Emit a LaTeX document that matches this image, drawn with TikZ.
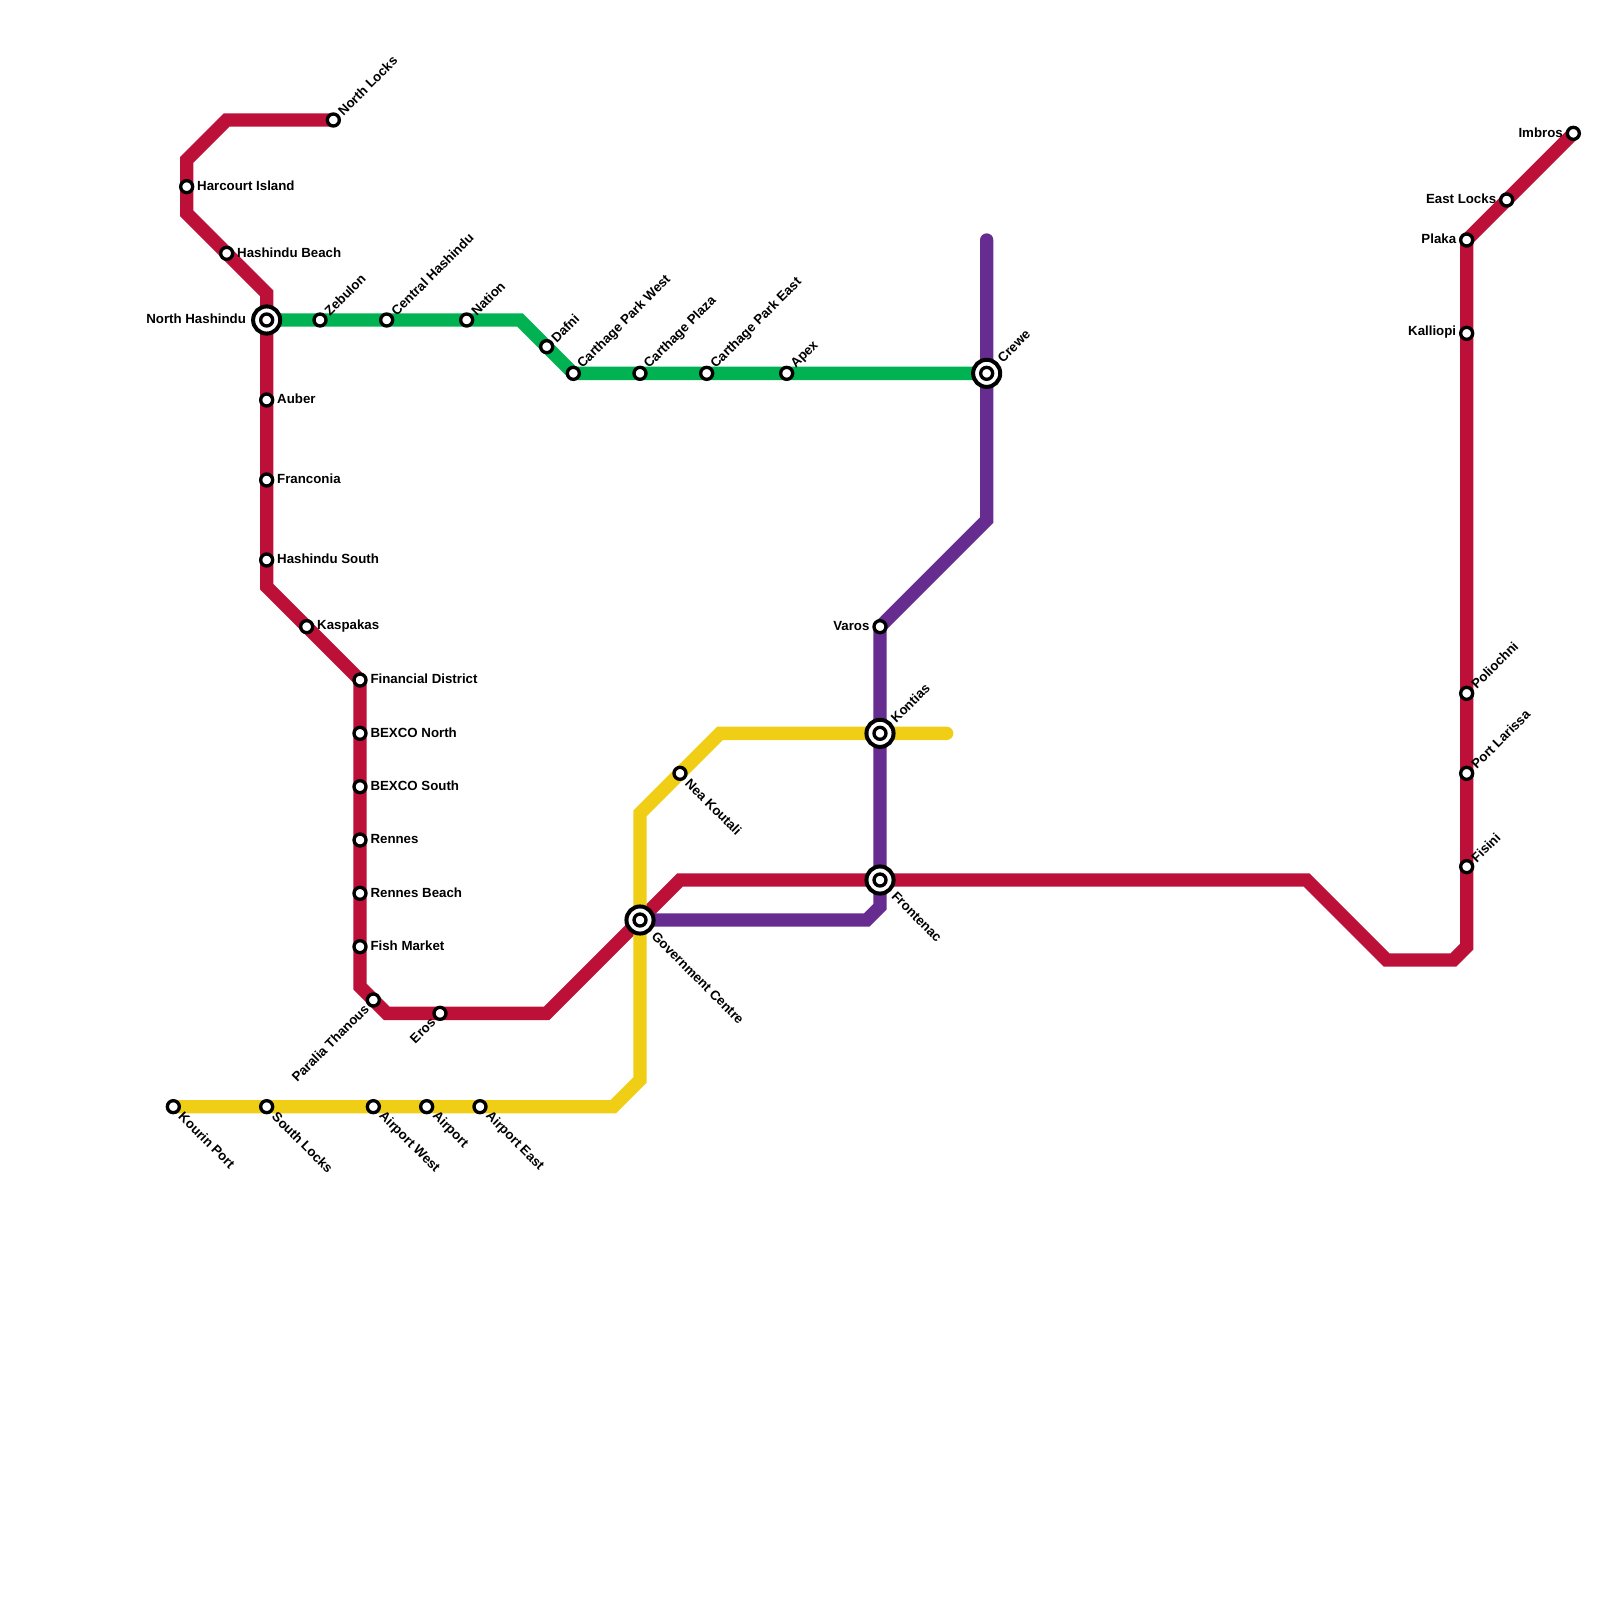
\documentclass[tikz,border=0pt]{standalone}
\usepackage{fontspec}
\setmainfont{Liberation Sans}
\usetikzlibrary{backgrounds}
\definecolor{redline}{HTML}{BD1038}
\definecolor{greenline}{HTML}{00B251}
\definecolor{yellowline}{HTML}{F0CE15}
\definecolor{purpleline}{HTML}{662C90}

\begin{document}
\begin{tikzpicture}[
  x=0.3cm, y=-0.3cm,
  font=\bfseries\fontsize{8.5pt}{10pt}\selectfont,
  stn/.style={circle, draw=black, fill=white, line width=0.75mm, minimum size=2.7mm, inner sep=0pt, outer sep=0pt},
  hub/.style={circle, draw=black, fill=white, line width=0.9mm, minimum size=6.1mm, inner sep=0pt, outer sep=0pt},
  route/.style={line width=0.3cm, line cap=round},
  lr/.style={anchor=west, inner sep=0pt, xshift=2.3mm, yshift=0.2mm},
  ll/.style={anchor=east, inner sep=0pt, xshift=-2.3mm, yshift=0.2mm},
  lu/.style={anchor=west, inner sep=0pt, rotate=45, xshift=2.1mm},
  ld/.style={anchor=west, inner sep=0pt, rotate=-45, xshift=2.4mm},
  lb/.style={anchor=east, inner sep=0pt, rotate=45, xshift=-2.1mm}
]
  \useasboundingbox (0,0) rectangle (120,120);
  % bends
  \coordinate (r1) at (17,9);
  \coordinate (r2) at (14,12);
  \coordinate (r3) at (14,16);
  \coordinate (r4) at (20,22);
  \coordinate (r5) at (20,44);
  \coordinate (r6) at (27,74);
  \coordinate (r7) at (29,76);
  \coordinate (r8) at (41,76);
  \coordinate (r9) at (51,66);
  \coordinate (r10) at (98,66);
  \coordinate (r11) at (104,72);
  \coordinate (r12) at (109,72);
  \coordinate (r13) at (110,71);
  \coordinate (g1) at (39,24);
  \coordinate (p1) at (74,18);
  \coordinate (p2) at (74,39);
  \coordinate (p3) at (66,68);
  \coordinate (p4) at (65,69);
  \coordinate (y1) at (46,83);
  \coordinate (y2) at (48,81);
  \coordinate (y3) at (48,61);
  \coordinate (y4) at (54,55);
  \coordinate (y5) at (71,55);
  % red, upper left
  \node[stn] (nlocks) at (25,9) {};
  \node[lu] (nlocks-l) at (nlocks) {North Locks};
  \node[stn] (harcourt) at (14,14) {};
  \node[lr] (harcourt-l) at (harcourt) {Harcourt Island};
  \node[stn] (hbeach) at (17,19) {};
  \node[lr] (hbeach-l) at (hbeach) {Hashindu Beach};
  \node[hub] (nhash) at (20,24) {};
  \node[stn] (nhash-i) at (nhash) {};
  \node[ll, xshift=-2.3mm] (nhash-l) at (nhash) {North Hashindu};
  \node[stn] (auber) at (20,30) {};
  \node[lr] (auber-l) at (auber) {Auber};
  \node[stn] (franconia) at (20,36) {};
  \node[lr] (franconia-l) at (franconia) {Franconia};
  \node[stn] (hsouth) at (20,42) {};
  \node[lr] (hsouth-l) at (hsouth) {Hashindu South};
  \node[stn] (kaspakas) at (23,47) {};
  \node[lr] (kaspakas-l) at (kaspakas) {Kaspakas};
  \node[stn] (findist) at (27,51) {};
  \node[lr] (findist-l) at (findist) {Financial District};
  \node[stn] (bnorth) at (27,55) {};
  \node[lr] (bnorth-l) at (bnorth) {BEXCO North};
  \node[stn] (bsouth) at (27,59) {};
  \node[lr] (bsouth-l) at (bsouth) {BEXCO South};
  \node[stn] (rennes) at (27,63) {};
  \node[lr] (rennes-l) at (rennes) {Rennes};
  \node[stn] (rbeach) at (27,67) {};
  \node[lr] (rbeach-l) at (rbeach) {Rennes Beach};
  \node[stn] (fish) at (27,71) {};
  \node[lr] (fish-l) at (fish) {Fish Market};
  \node[stn] (paralia) at (28,75) {};
  \node[lb] (paralia-l) at (paralia) {Paralia Thanous};
  \node[stn] (eros) at (33,76) {};
  \node[lb] (eros-l) at (eros) {Eros};
  % green
  \node[stn] (zebulon) at (24,24) {};
  \node[lu] (zebulon-l) at (zebulon) {Zebulon};
  \node[stn] (central) at (29,24) {};
  \node[lu] (central-l) at (central) {Central Hashindu};
  \node[stn] (nation) at (35,24) {};
  \node[lu] (nation-l) at (nation) {Nation};
  \node[stn] (dafni) at (41,26) {};
  \node[lu] (dafni-l) at (dafni) {Dafni};
  \node[stn] (cwest) at (43,28) {};
  \node[lu] (cwest-l) at (cwest) {Carthage Park West};
  \node[stn] (cplaza) at (48,28) {};
  \node[lu] (cplaza-l) at (cplaza) {Carthage Plaza};
  \node[stn] (ceast) at (53,28) {};
  \node[lu] (ceast-l) at (ceast) {Carthage Park East};
  \node[stn] (apex) at (59,28) {};
  \node[lu] (apex-l) at (apex) {Apex};
  \node[hub] (crewe) at (74,28) {};
  \node[stn] (crewe-i) at (crewe) {};
  \node[lu, xshift=2mm] (crewe-l) at (crewe) {Crewe};
  % yellow
  \node[stn] (kourin) at (13,83) {};
  \node[ld] (kourin-l) at (kourin) {Kourin Port};
  \node[stn] (slocks) at (20,83) {};
  \node[ld] (slocks-l) at (slocks) {South Locks};
  \node[stn] (awest) at (28,83) {};
  \node[ld] (awest-l) at (awest) {Airport West};
  \node[stn] (airport) at (32,83) {};
  \node[ld] (airport-l) at (airport) {Airport};
  \node[stn] (aeast) at (36,83) {};
  \node[ld] (aeast-l) at (aeast) {Airport East};
  \node[stn] (koutali) at (51,58) {};
  \node[ld] (koutali-l) at (koutali) {Nea Koutali};
  \node[hub] (govt) at (48,69) {};
  \node[stn] (govt-i) at (govt) {};
  \node[ld, xshift=2mm] (govt-l) at (govt) {Government Centre};
  % purple
  \node[stn] (varos) at (66,47) {};
  \node[ll] (varos-l) at (varos) {Varos};
  \node[hub] (kontias) at (66,55) {};
  \node[stn] (kontias-i) at (kontias) {};
  \node[lu, xshift=2mm] (kontias-l) at (kontias) {Kontias};
  \node[hub] (frontenac) at (66,66) {};
  \node[stn] (frontenac-i) at (frontenac) {};
  \node[ld, xshift=2mm] (frontenac-l) at (frontenac) {Frontenac};
  % red, right
  \node[stn] (fisini) at (110,65) {};
  \node[lu] (fisini-l) at (fisini) {Fisini};
  \node[stn] (larissa) at (110,58) {};
  \node[lu] (larissa-l) at (larissa) {Port Larissa};
  \node[stn] (poliochni) at (110,52) {};
  \node[lu] (poliochni-l) at (poliochni) {Poliochni};
  \node[stn] (kalliopi) at (110,25) {};
  \node[ll] (kalliopi-l) at (kalliopi) {Kalliopi};
  \node[stn] (plaka) at (110,18) {};
  \node[ll] (plaka-l) at (plaka) {Plaka};
  \node[stn] (elocks) at (113,15) {};
  \node[ll] (elocks-l) at (elocks) {East Locks};
  \node[stn] (imbros) at (118,10) {};
  \node[ll] (imbros-l) at (imbros) {Imbros};

  \begin{scope}[on background layer]
    \draw[route, redline] (nlocks.center) -- (r1) -- (r2) -- (r3) -- (r4) -- (r5) -- (findist.center)
      -- (r6) -- (r7) -- (r8) -- (r9) -- (r10) -- (r11) -- (r12) -- (r13) -- (plaka.center) -- (imbros.center);
    \draw[route, greenline] (nhash.center) -- (g1) -- (cwest.center) -- (crewe.center);
    \draw[route, yellowline] (kourin.center) -- (y1) -- (y2) -- (y3) -- (y4) -- (y5);
    \draw[route, purpleline] (p1) -- (p2) -- (varos.center) -- (p3) -- (p4) -- (govt.center);
  \end{scope}
\end{tikzpicture}
\end{document}
